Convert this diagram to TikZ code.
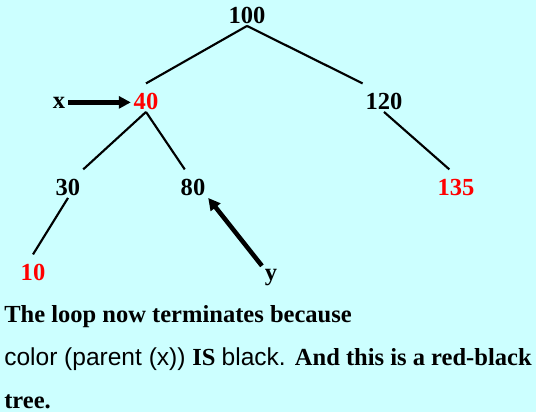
\documentclass[tikz,border=0pt]{standalone}
\usepackage{fontspec}
\setmainfont{Liberation Serif}
\setsansfont{Liberation Sans}
\usetikzlibrary{arrows.meta, positioning}
\definecolor{cBack}{HTML}{CCFFFF}
\definecolor{cRed}{HTML}{FF0000}
\tikzset{
  keynode/.style={
    font=\fontsize{18.4}{21}\selectfont\bfseries, text=#1,
    anchor=base, inner xsep=2pt, inner ysep=2pt,
    text height=17pt, text depth=0pt,
  },
  keynode/.default=black,
  ptrlabel/.style={
    font=\fontsize{18.4}{21}\selectfont\bfseries,
    anchor=base, inner sep=2pt,
  },
  branch/.style={line width=1.6pt},
  ptr/.style={-{Triangle[length=9pt, width=9pt]}, line width=3.4pt},
  notetext/.style={font=\fontsize{18.4}{21}\selectfont, anchor=base west, inner sep=0pt},
}

\begin{document}
\begin{tikzpicture}[x=0.75pt, y=-0.75pt]

  % Background
  \fill[cBack] (0,0) rectangle (536,412);
  \useasboundingbox (0,0) rectangle (536,412);

  % Tree nodes
  \node[keynode] (n100) at (247,23) {100};
  \node[keynode=cRed] (n40) at (146,109) {40};
  \node[keynode] (n120) at (384,109) {120};
  \node[keynode] (n30) at (68,195) {30};
  \node[keynode] (n80) at (193,195) {80};
  \node[keynode=cRed] (n135) at (456,195) {135};
  \node[keynode=cRed] (n10) at (33,280) {10};

  % Pointer labels
  \node[ptrlabel] (nx) at (59,108) {x};
  \node[ptrlabel] (ny) at (271,280) {y};

  % Branches
  \draw[branch] (n100.south) -- (n40.north);
  \draw[branch] (n100.south) -- (n120.north west);
  \draw[branch] (n40.south) -- (n30.north east);
  \draw[branch] (n40.south) -- (n80.120);
  \draw[branch] (n120.south) -- (n135.115);
  \draw[branch] (n30.south) -- (n10.north);

  % Pointers
  \draw[ptr] (nx.east) -- (nx.east -| n40.west);
  \draw[ptr] (ny.north west) -- (n80.south east);

  % Note
  \node[notetext] (line1) at (4,322) {\bfseries The loop now terminates because};
  \node[notetext] (line2) at (4,365) {\sffamily color (parent (x)) \rmfamily\bfseries IS \mdseries\sffamily black. \rmfamily\bfseries And this is a red-black};
  \node[notetext] (line3) at (4,408) {\bfseries tree.};

\end{tikzpicture}
\end{document}
